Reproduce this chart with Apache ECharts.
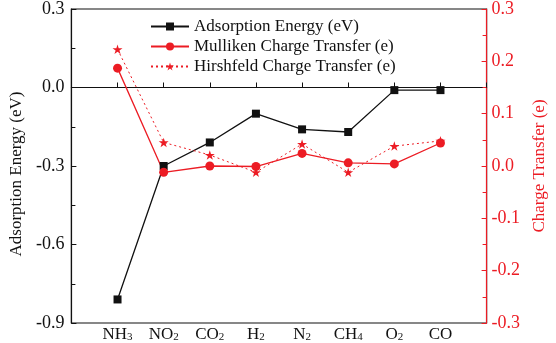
<!DOCTYPE html>
<html><head><meta charset="utf-8">
<script src="https://cdn.jsdelivr.net/npm/echarts@6/dist/echarts.min.js"></script>
<style>html,body{margin:0;padding:0;background:#fff}#c{width:556px;height:343px}</style>
</head><body><div id="c"></div>
<script>
const categories = ['NH3','NO2','CO2','H2','N2','CH4','O2','CO'];
const adsorptionEnergy = [-0.81, -0.30, -0.21, -0.10, -0.16, -0.17, -0.01, -0.01];
const mullikenCharge = [0.187, -0.012, 0.000, -0.001, 0.024, 0.006, 0.004, 0.044];
const hirshfeldCharge = [0.223, 0.045, 0.021, -0.012, 0.042, -0.012, 0.038, 0.048];
const leftTicks = [-0.9, -0.6, -0.3, 0.0, 0.3];
const rightTicks = [-0.3, -0.2, -0.1, 0.0, 0.1, 0.2, 0.3];

const RED = '#ec1c24';
const BLK = '#111';
const FONT = "'Liberation Serif', serif";
const star = 'path://M50,0 L61.25,34.55 L97.55,34.55 L68.15,55.9 L79.4,90.45 L50,69.1 L20.6,90.45 L31.85,55.9 L2.45,34.55 L38.75,34.55 Z';

function catLabel(v){
  const i = Math.round(v) - 1;
  if (i < 0 || i >= categories.length) return '';
  const m = categories[i].match(/^([A-Za-z]+)(\d*)$/);
  return '{a|' + m[1] + '}' + (m[2] ? '{s|' + m[2] + '}' : '');
}
const pts = arr => arr.map((v,i)=>[i+1, v]);

const chart = echarts.init(document.getElementById('c'), null, {renderer:'canvas'});
chart.setOption({
  animation:false,
  textStyle:{fontFamily:FONT},
  grid:{left:59, right:63, top:9, bottom:18, show:true, borderColor:BLK, borderWidth:1.2, backgroundColor:'transparent'},
  legend:{
    orient:'vertical', left:145, top:13, itemGap:3, itemWidth:38, itemHeight:10,
    textStyle:{fontFamily:FONT, fontSize:17, color:'#111'},
    data:['Adsorption Energy (eV)','Mulliken Charge Transfer (e)','Hirshfeld Charge Transfer (e)']
  },
  xAxis:{
    type:'value', min:0, max:categories.length+1, interval:1,
    axisLine:{lineStyle:{color:BLK, width:1.2}},
    axisTick:{inside:true, length:5, lineStyle:{color:BLK}},
    splitLine:{show:false},
    axisLabel:{margin:3, formatter:catLabel, color:'#111', fontFamily:FONT,
      rich:{a:{fontFamily:FONT, fontSize:17, color:'#111'}, s:{fontFamily:FONT, fontSize:11, color:'#111', verticalAlign:'bottom', padding:[6,0,0,0]}}}
  },
  yAxis:[{
    type:'value', min:leftTicks[0], max:leftTicks[leftTicks.length-1], interval:0.3,
    name:'Adsorption Energy (eV)', nameLocation:'middle', nameGap:40, nameRotate:90,
    nameTextStyle:{fontFamily:FONT, fontSize:17, color:'#111', padding:[0,16,0,0]},
    axisLine:{show:true, lineStyle:{color:BLK, width:1.2}},
    axisTick:{inside:true, length:5, lineStyle:{color:BLK}},
    minorTick:{show:true, splitNumber:2, length:4, lineStyle:{color:BLK}},
    splitLine:{show:false},
    axisLabel:{margin:7, fontSize:18, fontFamily:FONT, color:'#111', formatter:v=>v.toFixed(1)}
  },{
    type:'value', position:'right', min:rightTicks[0], max:rightTicks[rightTicks.length-1], interval:0.1,
    name:'Charge Transfer (e)', nameLocation:'middle', nameGap:42, nameRotate:90,
    nameTextStyle:{fontFamily:FONT, fontSize:17, color:RED},
    axisLine:{show:true, lineStyle:{color:RED, width:1.2}},
    axisTick:{inside:true, length:5, lineStyle:{color:RED}},
    minorTick:{show:true, splitNumber:2, length:4, lineStyle:{color:RED}},
    splitLine:{show:false},
    axisLabel:{margin:5, fontSize:18, fontFamily:FONT, color:RED, formatter:v=>v.toFixed(1)}
  }],
  series:[{
    name:'Adsorption Energy (eV)', type:'line', yAxisIndex:0, data:pts(adsorptionEnergy),
    symbol:'rect', symbolSize:8, color:BLK,
    lineStyle:{color:BLK, width:1.3}, itemStyle:{color:BLK}
  },{
    name:'Mulliken Charge Transfer (e)', type:'line', yAxisIndex:1, data:pts(mullikenCharge),
    symbol:'circle', symbolSize:9, color:RED,
    lineStyle:{color:RED, width:1.3}, itemStyle:{color:RED}
  },{
    name:'Hirshfeld Charge Transfer (e)', type:'line', yAxisIndex:1, data:pts(hirshfeldCharge),
    symbol:star, symbolSize:10, symbolKeepAspect:true, color:RED,
    lineStyle:{color:RED, width:1, type:[2,3]}, itemStyle:{color:RED}
  }]
});
</script></body></html>
